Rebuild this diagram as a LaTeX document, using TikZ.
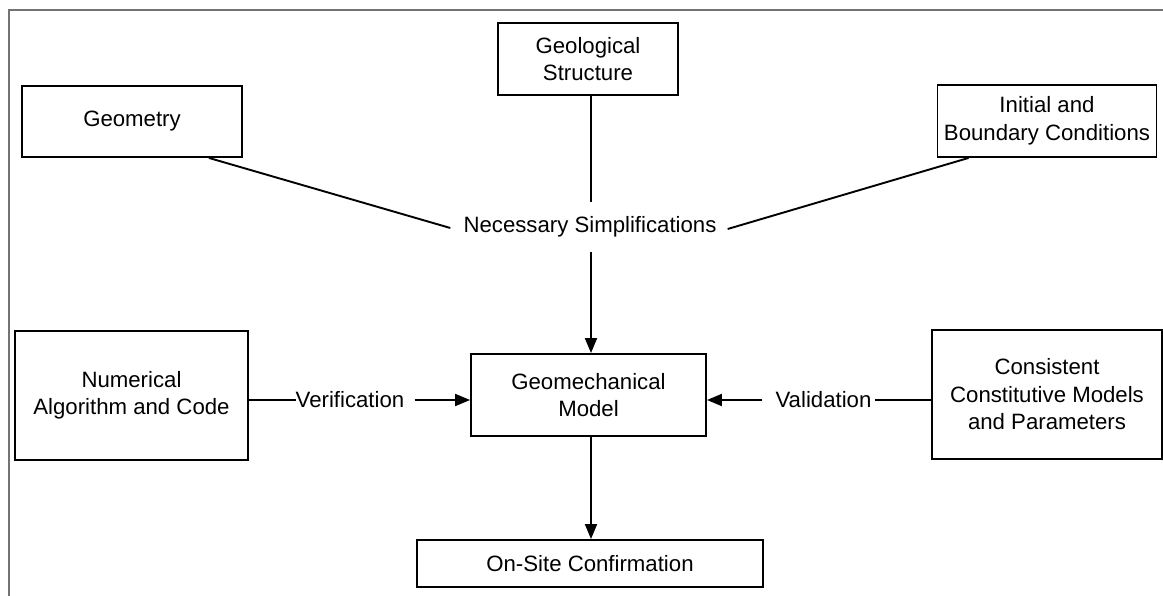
\documentclass[tikz,border=0pt]{standalone}
\usepackage{fontspec}
\setmainfont{Liberation Sans}
\usetikzlibrary{arrows.meta,calc}
\begin{document}
\begin{tikzpicture}[x=1pt,y=-1pt,
  every node/.style={font=\fontsize{22.2}{27.5}\selectfont, text=black},
  box/.style={draw=black, line width=1.9pt, rectangle, align=center, inner sep=0pt},
  lbl/.style={inner sep=0pt},
  conn/.style={draw=black, line width=1.9pt},
  arr/.style={conn, -{Triangle[length=15pt,width=12pt]}},
  frame/.style={draw=black!55, line width=2pt}]
\useasboundingbox (0,0) rectangle (1163,596);
\draw[frame] (9,596) -- (9,10) -- (1163,10);

\node[box, minimum width=220pt, minimum height=71pt] (geom) at (132,121.5) {Geometry};
\node[box, minimum width=180pt, minimum height=72pt] (geo) at (588,59) {Geological\\Structure};
\node[box, minimum width=219pt, minimum height=72pt] (ibc) at (1047,121) {Initial and\\Boundary Conditions};
\node[lbl] (ns) at (590,227) {Necessary Simplifications};
\node[box, minimum width=235pt, minimum height=82pt] (gm) at (588.5,395) {Geomechanical\\Model};
\node[box, minimum width=346pt, minimum height=47pt] (os) at (590,563.5) {On-Site Confirmation};
\node[box, minimum width=233pt, minimum height=129pt] (num) at (131.5,395.5) {Numerical\\Algorithm and Code};
\node[box, minimum width=230pt, minimum height=129pt] (ccm) at (1047,394.5) {Consistent\\Constitutive Models\\and Parameters};
\node[lbl] (ver) at (350,400) {Verification};
\node[lbl] (val) at (823.5,400) {Validation};

\coordinate (nsw) at ($(ns.west)+(-13,1)$);
\coordinate (nse) at ($(ns.east)+(11,2)$);
\coordinate (nsn) at (591,202);
\coordinate (nss) at (591,252);

\draw[conn] ($(geom.south east)+(-34,0)$) -- (nsw);
\draw[conn] ($(ibc.south west)+(32,0)$) -- (nse);
\draw[conn] (geo.south -| nsn) -- (nsn);
\draw[arr] (nss) -- (gm.north -| nss);
\draw[arr] (gm.south -| nss) -- (os.north -| nss);

\draw[conn] (num.east |- ver.west) -- (ver.west);
\draw[arr] ($(ver.east)+(10,0)$) -- (gm.west |- ver.east);
\draw[arr] ($(val.west)+(-13,0)$) -- (gm.east |- val.west);
\draw[conn] ($(val.east)+(3,0)$) -- (ccm.west |- val.east);
\end{tikzpicture}
\end{document}
